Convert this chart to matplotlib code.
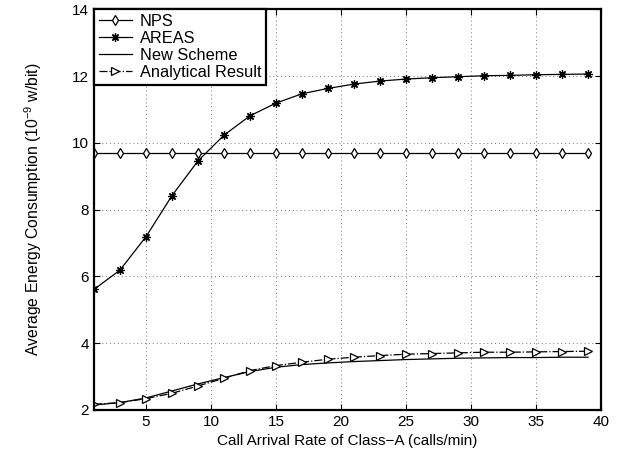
import matplotlib
matplotlib.use("Agg")
import matplotlib.pyplot as plt

plt.rcParams["font.family"] = ["Liberation Sans", "DejaVu Sans"]
plt.rcParams["mathtext.fontset"] = "custom"
plt.rcParams["mathtext.rm"] = "Liberation Sans"
plt.rcParams["mathtext.it"] = "Liberation Sans"

# arrival rate of class-A calls (calls/min)
rate = [1, 3, 5, 7, 9, 11, 13, 15, 17, 19, 21, 23, 25, 27, 29, 31, 33, 35, 37, 39]

nps = [9.7] * len(rate)
areas = [5.61, 6.19, 7.19, 8.42, 9.46, 10.23, 10.81, 11.19, 11.47, 11.63,
         11.76, 11.85, 11.91, 11.95, 11.98, 12.01, 12.02, 12.04, 12.05, 12.06]
new_scheme = [2.15, 2.22, 2.36, 2.57, 2.78, 2.97, 3.15, 3.28, 3.36, 3.41,
              3.45, 3.48, 3.51, 3.53, 3.55, 3.56, 3.57, 3.57, 3.58, 3.58]
analytical = [2.17, 2.22, 2.34, 2.50, 2.72, 2.95, 3.18, 3.33, 3.43, 3.52,
              3.58, 3.63, 3.67, 3.69, 3.71, 3.73, 3.73, 3.74, 3.75, 3.76]

fig = plt.figure(figsize=(6.33, 4.59), dpi=100)
ax = fig.add_axes([0.1485, 0.1068, 0.801, 0.873])

ax.plot(rate, nps, "k-", lw=0.9, marker="d", ms=5.5, mfc="white", mew=0.9, label="NPS")
ax.plot(rate, areas, "k-", lw=0.9, marker=(8, 2, 0), ms=6, mew=0.9, label="AREAS")
ax.plot(rate, new_scheme, "k-", lw=0.9, label="New Scheme")
ax.plot(rate, analytical, "k-.", lw=0.9, marker=">", ms=5.5, mfc="white", mew=0.9,
        label="Analytical Result")

ax.set_xlim(1, 40)
ax.set_ylim(2, 14)
ax.set_xticks([5, 10, 15, 20, 25, 30, 35, 40])
ax.set_yticks([2, 4, 6, 8, 10, 12, 14])
ax.tick_params(direction="in", top=True, right=True, labelsize=11, length=4, width=0.8)
ax.grid(True, ls=(0, (1, 3)), color="#777777", lw=0.7)
for s in ax.spines.values():
    s.set_linewidth(1.6)

ax.set_xlabel("Call Arrival Rate of Class\u2212A (calls/min)", fontsize=11)
ax.set_ylabel("Average Energy Consumption (10$^{-9}$ w/bit)", fontsize=11.3, labelpad=20)

leg = ax.legend(loc="upper left", fontsize=11.8, frameon=True, fancybox=False,
                borderaxespad=0, handlelength=2.0, labelspacing=0.12,
                borderpad=0.3, handletextpad=0.5)
leg.get_frame().set_edgecolor("black")
leg.get_frame().set_linewidth(1.6)
leg.get_frame().set_alpha(1)

fig.savefig("out.png", dpi=100)
